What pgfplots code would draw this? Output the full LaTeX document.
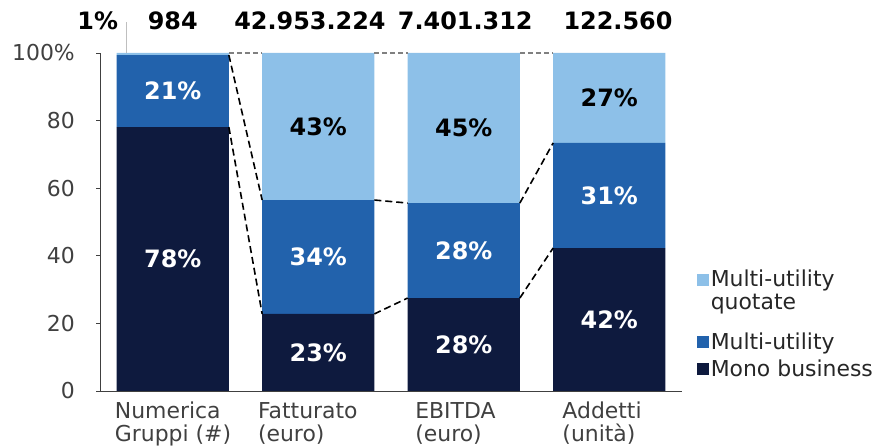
\documentclass[border=0pt]{standalone}
\usepackage{pgfplots}
\pgfplotsset{compat=1.18}
\usepackage{fontspec}
\setmainfont{DejaVu Sans}
\definecolor{cMono}{HTML}{0E1A3E}
\definecolor{cMulti}{HTML}{2262AC}
\definecolor{cQuot}{HTML}{8DC0E8}
\definecolor{axgray}{HTML}{404040}
\newcommand\regfont{\fontsize{22}{22}\selectfont}
\newcommand\xlfont{\fontsize{22}{23}\selectfont}
\newcommand\lblfont{\fontsize{24}{26}\selectfont\bfseries}
\begin{document}
\begin{tikzpicture}[x=1bp,y=1bp]
\path[use as bounding box] (0,0) rectangle (882,448);
\pgfplotsset{common/.style={at={(100bp,57bp)}, anchor=south west, scale only axis,
  width=582bp, height=338bp, xmin=-0.5, xmax=3.5, ymin=0, ymax=100},
  sq/.style={legend image code/.code={\fill[##1] (0bp,-6bp) rectangle (12bp,6bp);}},
  squp/.style={legend image code/.code={\fill[##1] (0bp,11bp) rectangle (12bp,23bp);}}}
\begin{axis}[common,
  ybar stacked, bar width=0.771,
  axis x line*=bottom, axis y line*=left,
  axis line style={draw=axgray, line width=0.8bp, -},
  xtick={-0.399,0.585,1.666,2.677},
  xticklabels={{Numerica\\Gruppi (\#)},{Fatturato\\(euro)},{EBITDA\\(euro)},{Addetti\\(unità)}},
  x tick style={draw=none},
  xticklabel style={align=left, anchor=north west, yshift=-7bp,
    font=\xlfont, text=axgray, inner sep=0pt},
  ytick={0,20,40,60,80,100}, yticklabels={0,20,40,60,80,100\%},
  y tick style={draw=axgray, line width=0.8bp},
  tick align=outside, major tick length=4bp,
  yticklabel style={font=\regfont, text=axgray, anchor=east, inner sep=0pt, xshift=-21bp},
  reverse legend,
  legend style={at={(1.025,0.0325)}, anchor=south west, draw=none, fill=none,
    font=\regfont, text=black!85, cells={anchor=west, align=left}, row sep=5bp, inner sep=0pt},
]
\addplot[fill=cMono, draw=none, sq] coordinates {(0,78.1) (1,22.8) (2,27.5) (3,42.3)};
\addlegendentry{Mono business\strut}
\addplot[fill=cMulti, draw=none, sq] coordinates {(0,21.3) (1,33.7) (2,28.1) (3,31.1)};
\addlegendentry{Multi-utility\strut}
\addplot[fill=cQuot, draw=none, squp] coordinates {(0,0.6) (1,43.5) (2,44.4) (3,26.6)};
\addlegendentry{Multi-utility\strut\\quotate\strut\\[-9.4bp]\mbox{}}
\end{axis}
\begin{axis}[common, hide axis, clip=false, unbounded coords=jump]
% gray dashed at top
\addplot[draw=gray, line width=2bp, dash pattern=on 5bp off 3bp, mark=none]
  coordinates {(0.3855,100) (0.6145,100) (nan,nan) (1.3855,100) (1.6145,100) (nan,nan) (2.3855,100) (2.6145,100)};
% black dashed connectors
\addplot[draw=black, line width=1.6bp, dash pattern=on 7bp off 4bp, mark=none]
  coordinates {(0.3855,78.1) (0.6145,22.8) (nan,nan) (0.3855,99.4) (0.6145,56.5) (nan,nan)
  (1.3855,22.8) (1.6145,27.5) (nan,nan) (1.3855,56.5) (1.6145,55.6) (nan,nan)
  (2.3855,27.5) (2.6145,42.3) (nan,nan) (2.3855,55.6) (2.6145,73.4)};
% leader line for 1%
\addplot[draw=gray!50, line width=0.6bp, mark=none] coordinates {(-0.317,100) (-0.317,109.2)};
% white labels
\addplot[draw=none, mark=none, nodes near coords={\pgfplotspointmeta\%}, point meta=explicit symbolic,
  every node near coord/.style={font=\lblfont, text=white, anchor=center, inner sep=0pt}]
  table[meta=l] {
x y l
0 39.05 78
0 88.7 21
1 11.4 23
1 39.65 34
2 13.75 28
2 41.55 28
3 21.15 42
3 57.85 31
};
% black labels
\addplot[draw=none, mark=none, nodes near coords={\pgfplotspointmeta\%}, point meta=explicit symbolic,
  every node near coord/.style={font=\lblfont, text=black, anchor=center, inner sep=0pt}]
  table[meta=l] {
x y l
1 78.25 43
2 77.8 45
3 86.7 27
-0.516 109.5 1
};
% totals
\addplot[draw=none, mark=none, nodes near coords={\pgfplotspointmeta}, point meta=explicit symbolic,
  every node near coord/.style={font=\lblfont, text=black, anchor=center, inner sep=0pt}]
  table[meta=l] {
x y l
0 109.5 984
0.943 109.5 42.953.224
2.01 109.5 7.401.312
3.06 109.5 122.560
};
\end{axis}
\end{tikzpicture}
\end{document}
